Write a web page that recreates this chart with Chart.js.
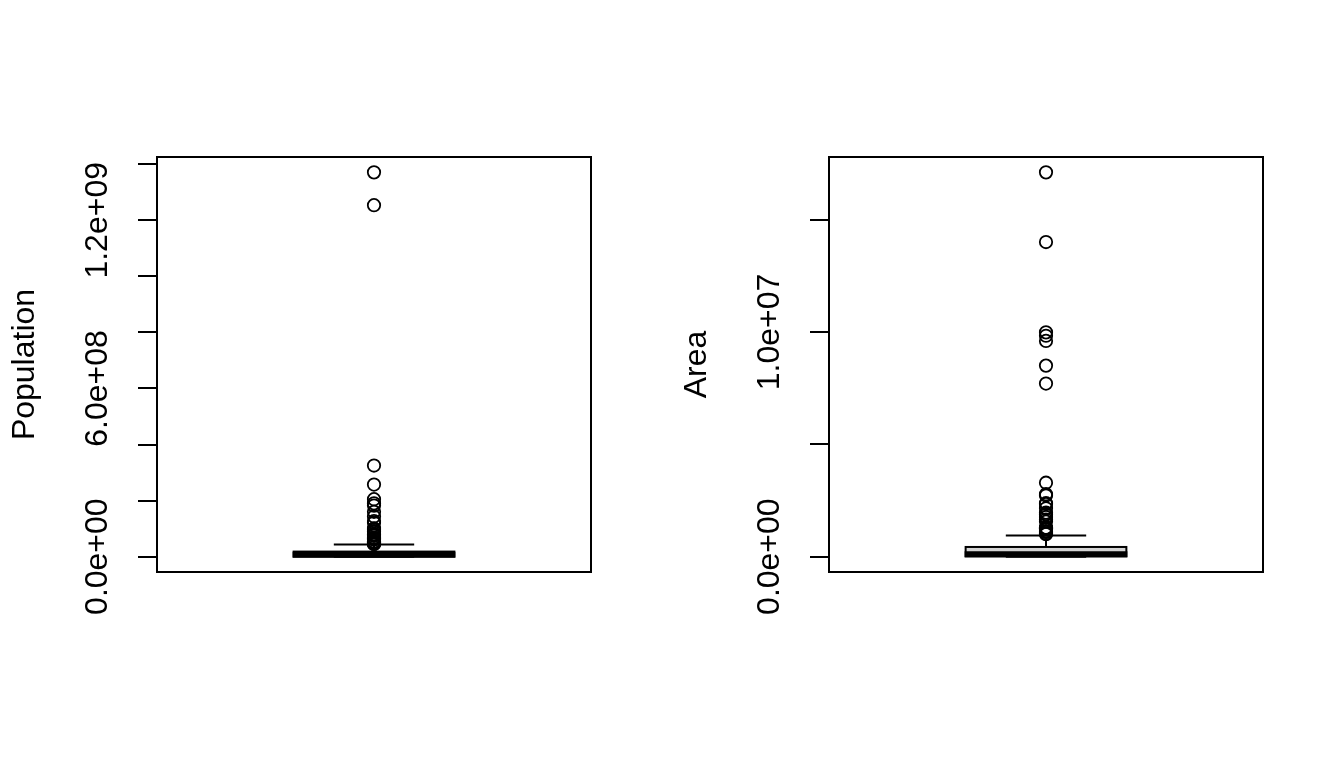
<!DOCTYPE html>
<html>
<head>
<meta charset="utf-8">
<title>Population / Area</title>
<script src="https://cdn.jsdelivr.net/npm/chart.js@4.4.0/dist/chart.umd.min.js"></script>
<style>
  body { margin: 0; background: #fff; }
  #wrap { position: relative; width: 1344px; height: 768px; background: #fff; }
  .panel { position: absolute; top: 0; width: 672px; height: 768px; }
</style>
</head>
<body>
<div id="wrap">
  <div class="panel" style="left:0"><canvas id="popChart" width="672" height="768"></canvas></div>
  <div class="panel" style="left:672px"><canvas id="areaChart" width="672" height="768"></canvas></div>
</div>
<script>
// Population : [min, Q1, médiane, Q3, moustache haute]
const popBox = [0, 4e5, 7e6, 1.8e7, 4.3e7];
const popOutliers = [1.371e9, 1.254e9, 3.25e8, 2.57e8, 2.05e8, 1.90e8, 1.82e8, 1.60e8,
  1.43e8, 1.27e8, 1.21e8, 1.01e8, 9.6e7, 9.1e7, 8.9e7, 8.1e7, 7.8e7, 7.7e7, 7.4e7,
  6.8e7, 6.6e7, 6.4e7, 6.1e7, 5.4e7, 5.3e7, 5.0e7, 5.0e7, 4.8e7, 4.6e7, 4.5e7, 4.5e7];
const popTicks = [0, 2e8, 4e8, 6e8, 8e8, 1e9, 1.2e9, 1.4e9];
const popLabelValues = [0, 6e8, 1.2e9];
const popLabels = ['0.0e+00', '6.0e+08', '1.2e+09'];

// Surface : [min, Q1, médiane, Q3, moustache haute]
const areaBox = [0, 1.2e4, 1.1e5, 4.3e5, 9.4e5];
const areaOutliers = [1.71e7, 1.40e7, 9.98e6, 9.83e6, 9.6e6, 8.5e6, 7.7e6, 3.29e6,
  2.78e6, 2.72e6, 2.38e6, 2.34e6, 2.15e6, 1.96e6, 1.90e6, 1.86e6, 1.76e6, 1.65e6,
  1.56e6, 1.29e6, 1.28e6, 1.27e6, 1.25e6, 1.24e6, 1.22e6, 1.14e6, 1.10e6, 1.10e6,
  1.03e6, 1.00e6];
const areaTicks = [0, 5e6, 1e7, 1.5e7];
const areaLabelValues = [0, 1e7];
const areaLabels = ['0.0e+00', '1.0e+07'];

const FONT = { family: '"Liberation Sans", Arial, Helvetica, sans-serif', size: 32 };

// Plugin qui dessine la boîte, les moustaches et le cadre
const boxPlugin = {
  id: 'boxplot',
  beforeDatasetsDraw(chart, args, opts) {
    const ctx = chart.ctx;
    const x = chart.scales.x, y = chart.scales.y;
    const [lo, q1, med, q3, hi] = opts.stats;
    const yp = v => y.getPixelForValue(v);
    const xl = x.getPixelForValue(0.8), xr = x.getPixelForValue(1.2);
    const sl = x.getPixelForValue(0.9), sr = x.getPixelForValue(1.1);
    const xc = x.getPixelForValue(1);
    const seg = (x1, y1, x2, y2) => { ctx.beginPath(); ctx.moveTo(x1, y1); ctx.lineTo(x2, y2); ctx.stroke(); };

    ctx.save();
    ctx.strokeStyle = '#000';
    ctx.lineWidth = 2;
    // moustaches (pointillés comme R)
    ctx.setLineDash([8, 8]);
    seg(xc, yp(q3), xc, yp(hi));
    seg(xc, yp(q1), xc, yp(lo));
    ctx.setLineDash([]);
    seg(sl, yp(hi), sr, yp(hi));
    seg(sl, yp(lo), sr, yp(lo));
    // boîte
    ctx.fillStyle = '#D3D3D3';
    ctx.fillRect(xl, yp(q3), xr - xl, yp(q1) - yp(q3));
    ctx.strokeRect(xl, yp(q3), xr - xl, yp(q1) - yp(q3));
    // médiane
    ctx.lineWidth = 6;
    seg(xl - 1, yp(med), xr + 1, yp(med));
    ctx.restore();
  },
  afterDraw(chart) {
    const { ctx, chartArea: a } = chart;
    ctx.save();
    ctx.strokeStyle = '#000';
    ctx.lineWidth = 2;
    ctx.strokeRect(a.left, a.top, a.right - a.left, a.bottom - a.top);
    ctx.restore();
  }
};

function drawBoxChart(canvasId, title, stats, outliers, tickValues, labelValues, labels) {
  const ctx = document.getElementById(canvasId).getContext('2d');
  const all = stats.concat(outliers);
  const lo = Math.min(...all), hi = Math.max(...all);
  const pad = (hi - lo) * 0.04;

  return new Chart(ctx, {
    type: 'scatter',
    data: {
      datasets: [{
        data: outliers.map(v => ({ x: 1, y: v })),
        pointStyle: 'circle',
        pointRadius: 6.2,
        pointBorderWidth: 1.8,
        borderColor: '#000',
        backgroundColor: 'rgba(0,0,0,0)'
      }]
    },
    options: {
      responsive: false,
      animation: false,
      events: [],
      layout: { padding: { left: 0, top: 157, right: 81, bottom: 196 } },
      plugins: {
        legend: { display: false },
        tooltip: { enabled: false },
        boxplot: { stats: stats }
      },
      scales: {
        x: { type: 'linear', min: 0.46, max: 1.54, display: false },
        y: {
          type: 'linear',
          min: lo - pad,
          max: hi + pad,
          afterBuildTicks(scale) { scale.ticks = tickValues.map(v => ({ value: v })); },
          afterFit(scale) { scale.width = 157; },
          border: { display: true, color: '#000', width: 2 },
          grid: { drawOnChartArea: false, drawTicks: true, tickLength: 19, color: '#000', lineWidth: 2 },
          ticks: {
            autoSkip: false,
            minRotation: 90,
            maxRotation: 90,
            crossAlign: 'center',
            padding: -18,
            color: '#000',
            font: FONT,
            callback: (value) => {
              const i = labelValues.indexOf(value);
              return i >= 0 ? labels[i] : '';
            }
          },
          title: { display: true, text: title, color: '#000', font: FONT, padding: { top: 6, bottom: 0 } }
        }
      }
    },
    plugins: [boxPlugin]
  });
}

drawBoxChart('popChart', 'Population', popBox, popOutliers, popTicks, popLabelValues, popLabels);
drawBoxChart('areaChart', 'Area', areaBox, areaOutliers, areaTicks, areaLabelValues, areaLabels);
</script>
</body>
</html>
